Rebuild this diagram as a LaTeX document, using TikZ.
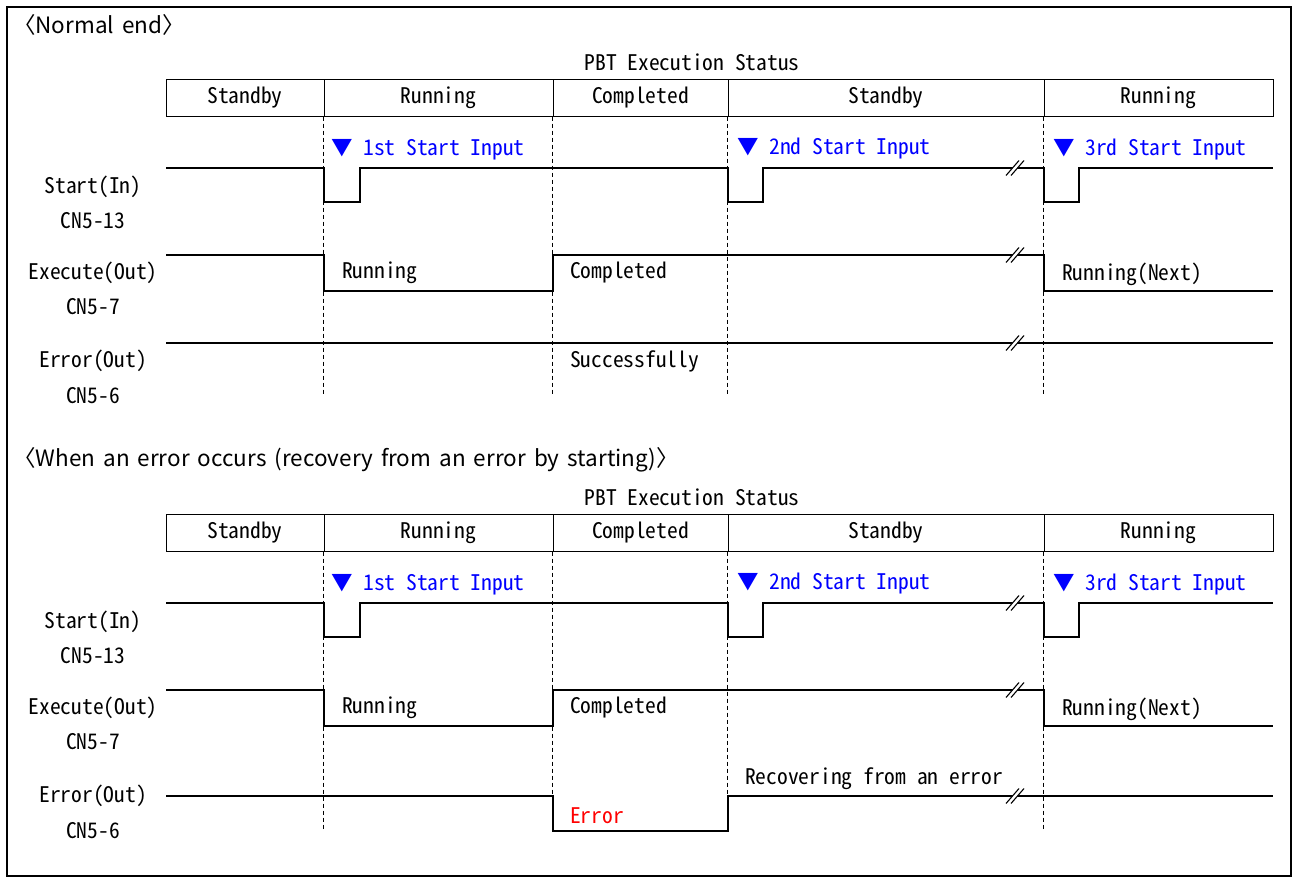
\documentclass[tikz,border=0pt]{standalone}
\usepackage{fontspec}
\setmainfont{Noto Sans CJK JP}
\newfontfamily\gothic[RawFeature=+hwid]{Noto Sans CJK JP}
\newfontfamily\headfont[WordSpace=1.6]{Noto Sans CJK JP}
\usepackage{tikz}
\usetikzlibrary{positioning}

\definecolor{inblue}{RGB}{0,0,255}
\definecolor{errred}{RGB}{255,0,0}

\tikzset{
  sig/.style={line width=1.6pt},
  grid/.style={line width=0.8pt, dash pattern=on 4pt off 3pt},
  txt/.style={font=\gothic\fontsize{21.5}{21.5}\selectfont, inner sep=0pt},
  cell/.style={txt, draw, line width=1pt, minimum height=37pt},
  head/.style={font=\headfont\fontsize{22.5}{22.5}\selectfont, inner sep=0pt, anchor=west},
}

% break mark on a signal line
\newcommand{\brkmark}[2]{%
  \fill[white] (#1-9,#2+7.5) -- (#1+4,#2-7.5) -- (#1+9,#2-7.5) -- (#1-4,#2+7.5) -- cycle;
  \draw[line width=1.1pt] (#1-9,#2+7.5) -- (#1+4,#2-7.5);
  \draw[line width=1.1pt] (#1-4,#2+7.5) -- (#1+9,#2-7.5);
}

\begin{document}
\begin{tikzpicture}[x=1pt,y=-1pt]
	\useasboundingbox (0,0) rectangle (1299,878);
	\draw[line width=1.6pt] (7,7) rectangle (1291,876);

	\foreach \oy/\ttl in {0/Normal end,435/When an error occurs (recovery from an error by starting)}{
	\begin{scope}[yshift=-\oy pt]
		\node[head] (title\oy) at (13,25) {〈\ttl〉};
		\node[txt] (pbt\oy) at (692,62) {PBT Execution Status};
		% status bar
		\node[cell, minimum width=158pt] (c1\oy) at (245,97.5) {Standby};
		\node[cell, minimum width=229pt] (c2\oy) at (438.5,97.5) {Running};
		\node[cell, minimum width=175pt] (c3\oy) at (640.5,97.5) {Completed};
		\node[cell, minimum width=316pt] (c4\oy) at (886,97.5) {Standby};
		\node[cell, minimum width=229pt] (c5\oy) at (1158.5,97.5) {Running};
		% time grid
		\draw[grid] (c2\oy.south west) -- ++(0,279);
		\draw[grid] (c3\oy.south west) -- ++(0,279);
		\draw[grid] (c4\oy.south west) -- ++(0,279);
		\draw[grid] (c5\oy.south west) -- ++(0,279);
		% signal names
		\node[txt] (sn\oy) at (93,187) {Start(In)};
		\node[txt] (sp\oy) at (93,221) {CN5-13};
		\node[txt] (en\oy) at (93,273) {Execute(Out)};
		\node[txt] (ep\oy) at (93,307) {CN5-7};
		\node[txt] (rn\oy) at (93,361) {Error(Out)};
		\node[txt] (rp\oy) at (93,396) {CN5-6};
		% start input
		\draw[sig] (166,168) -- (324,168) -- (324,202) -- (360,202) -- (360,168)
			-- (728,168) -- (728,202) -- (763,202) -- (763,168)
			-- (1044,168) -- (1044,202) -- (1079,202) -- (1079,168) -- (1273,168);
		\brkmark{1015}{168}
		\node[txt, anchor=west, text=inblue] (i1\oy) at (331,150) {▼ 1st Start Input};
		\node[txt, anchor=west, text=inblue] (i2\oy) at (737,149) {▼ 2nd Start Input};
		\node[txt, anchor=west, text=inblue] (i3\oy) at (1053,150) {▼ 3rd Start Input};
		% execute output
		\draw[sig] (166,255) -- (324,255) -- (324,291) -- (553,291) -- (553,255)
			-- (1044,255) -- (1044,291) -- (1273,291);
		\brkmark{1015}{255}
		\node[txt, anchor=west] (x1\oy) at (342,273) {Running};
		\node[txt, anchor=west] (x2\oy) at (570,273) {Completed};
		\node[txt, anchor=west] (x3\oy) at (1062,274) {Running(Next)};
	\end{scope}
	}

	% error output, normal end
	\draw[sig] (166,343) -- (1273,343);
	\brkmark{1015}{343}
	\node[txt, anchor=west] (ok) at (570,361) {Successfully};

	% error output, error case
	\draw[sig] (166,796) -- (553,796) -- (553,831) -- (728,831) -- (728,796) -- (1273,796);
	\brkmark{1015}{796}
	\node[txt, anchor=west] (recov) at (745,779) {Recovering from an error};
	\node[txt, anchor=west, text=errred] (err) at (570,816) {Error};
\end{tikzpicture}
\end{document}
